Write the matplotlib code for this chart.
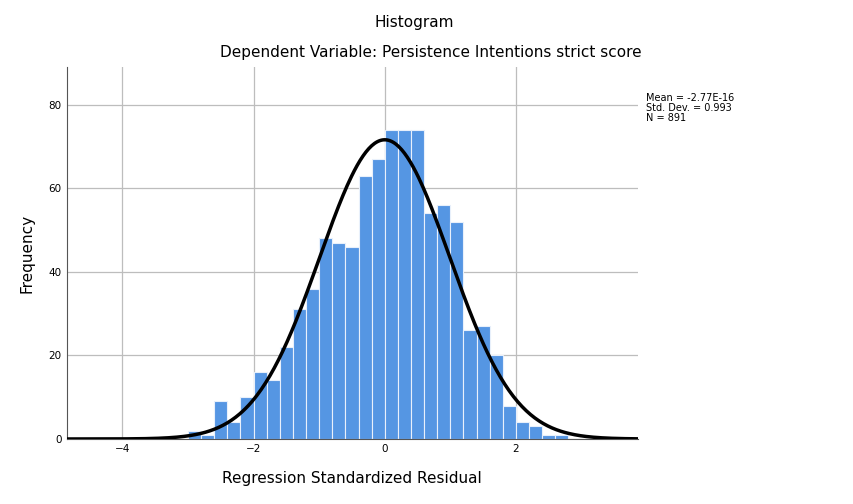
import matplotlib.pyplot as plt
import numpy as np

edges = np.arange(-3.0, 2.81, 0.2)
counts = [2, 1, 9, 4, 10, 16, 14, 22, 31, 36, 48, 47, 46, 63, 67, 74, 74, 74,
          54, 56, 52, 26, 27, 20, 8, 4, 3, 1, 1]
mean, sd, n = -2.77e-16, 0.993, 891

def generate_graph(edges, counts):
    fig = plt.figure(figsize=(8.54, 5.04), dpi=100)
    ax = fig.add_axes([0.078, 0.129, 0.669, 0.738])
    ax.bar(edges[:-1], counts, width=0.2, align='edge', color='#5596e3', edgecolor='#e8f0fb', linewidth=0.8, zorder=2)
    x = np.linspace(-4.85, 3.86, 400)
    y = n * 0.2 * np.exp(-0.5 * ((x - mean) / sd) ** 2) / (sd * np.sqrt(2 * np.pi))
    ax.plot(x, y, color='black', linewidth=2.5, zorder=3)
    ax.set_xlim(-4.85, 3.86)
    ax.set_ylim(0, 89)
    ax.set_xticks([-4, -2, 0, 2])
    ax.set_yticks([0, 20, 40, 60, 80])
    ax.grid(color='#bdbdbd', linewidth=0.9, zorder=0)
    ax.tick_params(labelsize=7.5, length=0)
    for s in ['top', 'right']:
        ax.spines[s].set_visible(False)
    ax.spines['left'].set_color('#555555')
    ax.spines['bottom'].set_color('#555555')
    ax.set_xlabel("Regression Standardized Residual", fontsize=11, labelpad=12)
    ax.set_ylabel("Frequency", fontsize=11, labelpad=10)
    fig.text(0.485, 0.955, "Histogram", fontsize=11, ha='center', va='center')
    fig.text(0.505, 0.895, "Dependent Variable: Persistence Intentions strict score", fontsize=11, ha='center', va='center')
    fig.text(0.756, 0.815, "Mean = -2.77E-16\nStd. Dev. = 0.993\nN = 891", fontsize=7, va='top', linespacing=1.0)
    fig.savefig("out.png", dpi=100)
    plt.close(fig)

generate_graph(edges, counts)
